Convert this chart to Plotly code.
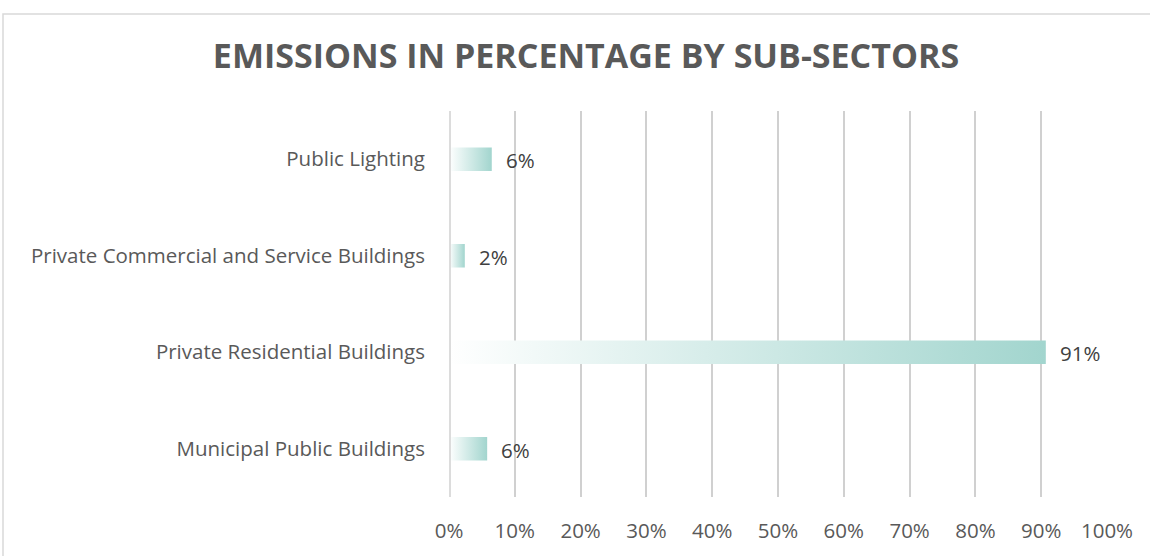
import plotly.graph_objects as go

categories = ["Municipal Public Buildings", "Private Residential Buildings",
              "Private Commercial and Service Buildings", "Public Lighting"]
values = [5.8, 90.7, 2.4, 6.5]
labels = ["6%", "91%", "2%", "6%"]
tick_vals = [0, 10, 20, 30, 40, 50, 60, 70, 80, 90, 100]
tick_text = ["0%", "10%", "20%", "30%", "40%", "50%", "60%", "70%", "80%", "90%", "100%"]

FONT = "Open Sans"
TEXT = "#595959"
h = 0.122

fig = go.Figure()
for i, v in enumerate(values):
    fig.add_trace(go.Scatter(
        x=[0, v, v, 0, 0], y=[i - h, i - h, i + h, i + h, i - h],
        mode="lines", line=dict(width=0), fill="toself",
        fillgradient=dict(type="horizontal",
                          colorscale=[[0, "rgba(255,255,255,1)"], [1, "#a2d5ce"]]),
        hoverinfo="skip", showlegend=False))

annotations = [
    dict(x=v, y=i, xref="x", yref="y", text=t, showarrow=False,
         xanchor="left", yanchor="middle", xshift=12, yshift=-1,
         font=dict(family=FONT, size=20.5, color="#404040"))
    for i, (v, t) in enumerate(zip(values, labels))
]

fig.update_layout(
    width=1150, height=556,
    margin=dict(l=449, r=43, t=111, b=51),
    paper_bgcolor="white", plot_bgcolor="white",
    title=dict(text="<b>EMISSIONS IN PERCENTAGE BY SUB-SECTORS</b>",
               x=0.5096, xanchor="center", y=1 - 56 / 556, yref="container", yanchor="middle",
               font=dict(family=FONT, size=34, color=TEXT)),
    xaxis=dict(range=[0, 100], tickvals=tick_vals, ticktext=tick_text,
               showgrid=True, gridcolor="#d0d0d0", gridwidth=1.5,
               zeroline=False, showline=False, ticks="",
               ticklabelstandoff=19,
               tickfont=dict(family=FONT, size=20.5, color=TEXT), fixedrange=True),
    yaxis=dict(range=[-0.5, 3.5], tickvals=list(range(len(categories))), ticktext=categories,
               showgrid=False, zeroline=False, showline=False, ticks="",
               ticklabelstandoff=23,
               tickfont=dict(family=FONT, size=20.5, color=TEXT), fixedrange=True),
    annotations=annotations,
    shapes=[
        dict(type="line", xref="x", yref="paper", x0=0, x1=0, y0=0, y1=1,
             line=dict(color="#dcdcdc", width=4), layer="above"),
        dict(type="rect", xref="paper", yref="paper", x0=(3 - 449) / 658, x1=1.2,
             y0=-0.5, y1=(505 - 12) / 394, line=dict(color="#d9d9d9", width=1.5),
             layer="below"),
    ],
)
fig.write_html("out.html")
